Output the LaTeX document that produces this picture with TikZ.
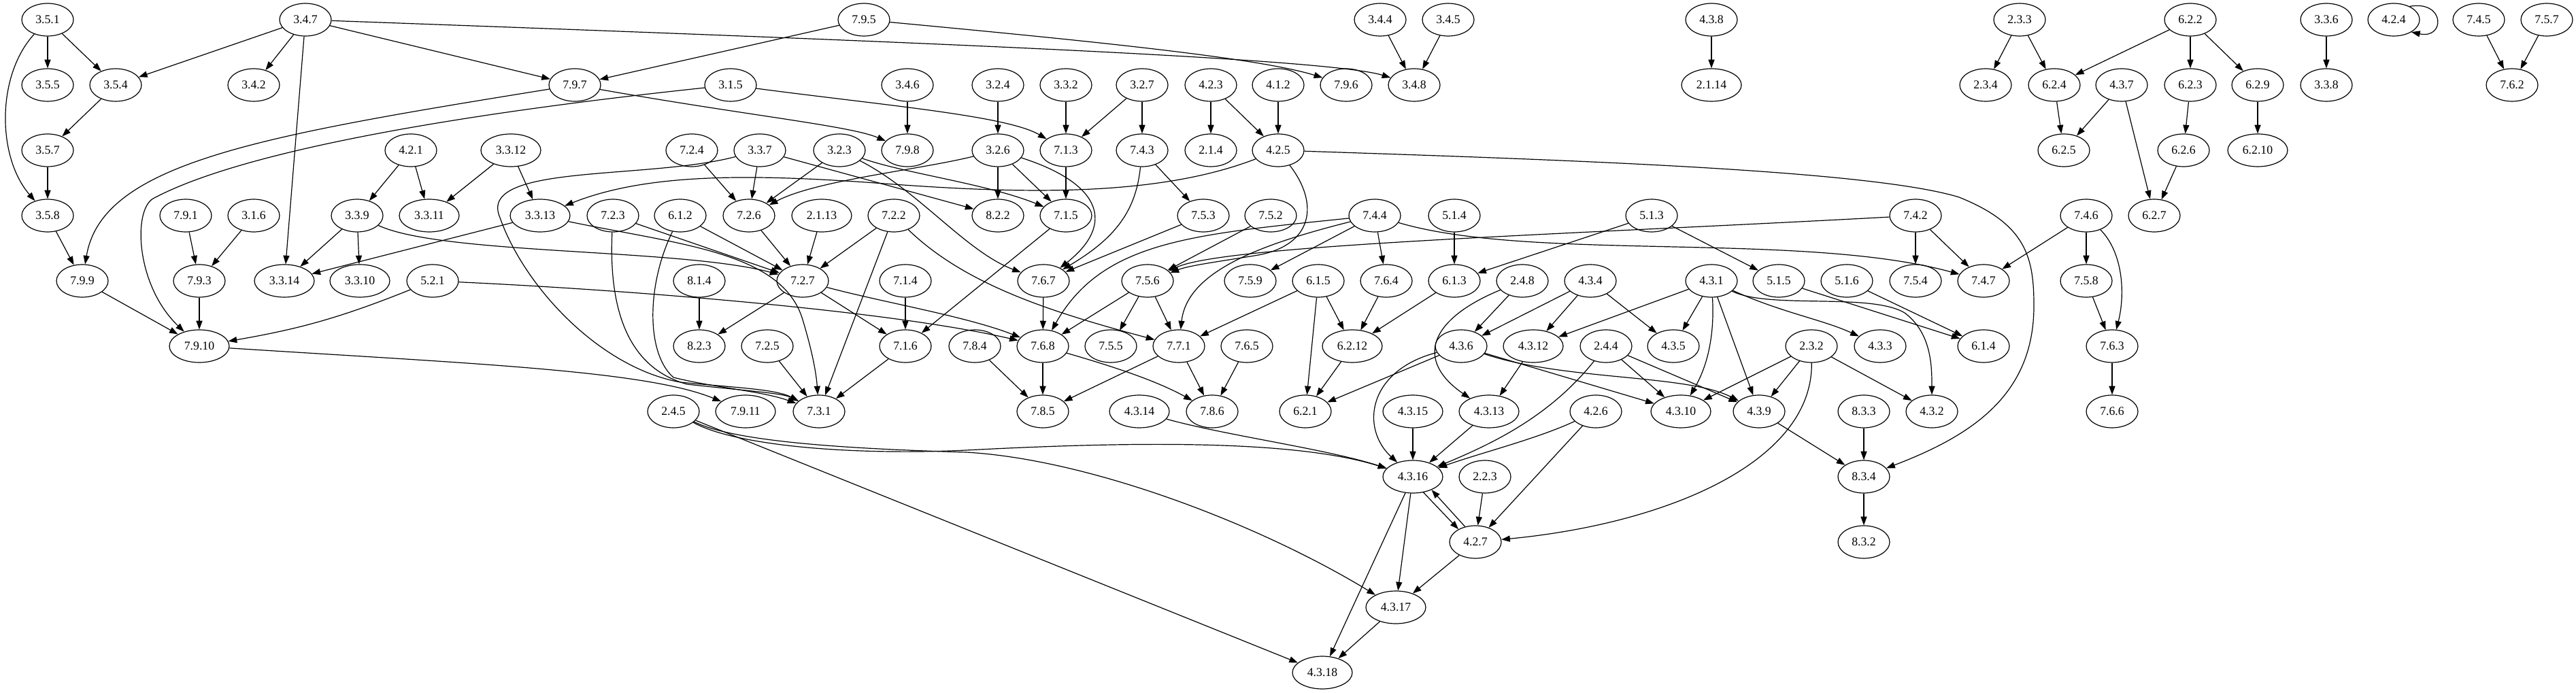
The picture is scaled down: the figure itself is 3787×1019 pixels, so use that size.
\documentclass[tikz,border=0pt]{standalone}
\usepackage{fontspec}
\setmainfont{Liberation Serif}
\usetikzlibrary{shapes.geometric,arrows.meta}
\newcommand\nodefont{\fontsize{13.3}{15}\selectfont}
\begin{document}
\begin{tikzpicture}[x=0.75pt,y=-0.75pt,
 nd/.style={draw,ellipse,minimum width=57pt,minimum height=36pt,inner sep=0pt,line width=0.9pt,font=\nodefont},
 wd/.style={nd,minimum width=66pt},
 e/.style={line width=0.9pt,-{Triangle[length=9.5pt,width=6.8pt]}}]
\useasboundingbox (0,0) rectangle (3787,1019);
% row 0
\node[nd] (a351) at (70,29) {3.5.1};
\node[nd] (a347) at (449,29) {3.4.7};
\node[nd] (a795) at (1270,29) {7.9.5};
\node[nd] (a344) at (2029,29) {3.4.4};
\node[nd] (a345) at (2129,29) {3.4.5};
\node[nd] (a438) at (2516,29) {4.3.8};
\node[nd] (a233) at (2969,29) {2.3.3};
\node[nd] (a622) at (3220,29) {6.2.2};
\node[nd] (a336) at (3420,29) {3.3.6};
\node[nd] (a424) at (3519,29) {4.2.4};
\node[nd] (a745) at (3644,29) {7.4.5};
\node[nd] (a757) at (3744,29) {7.5.7};
% row 1
\node[nd] (a355) at (70,125) {3.5.5};
\node[nd] (a354) at (170,125) {3.5.4};
\node[nd] (a342) at (373,125) {3.4.2};
\node[nd] (a797) at (845,125) {7.9.7};
\node[nd] (a315) at (1074,125) {3.1.5};
\node[nd] (a346) at (1334,125) {3.4.6};
\node[nd] (a324) at (1467,125) {3.2.4};
\node[nd] (a332) at (1567,125) {3.3.2};
\node[nd] (a327) at (1679,125) {3.2.7};
\node[nd] (a423) at (1780,125) {4.2.3};
\node[nd] (a412) at (1879,125) {4.1.2};
\node[nd] (a796) at (1979,125) {7.9.6};
\node[nd] (a348) at (2079,125) {3.4.8};
\node[wd] (a2114) at (2516,125) {2.1.14};
\node[nd] (a234) at (2919,125) {2.3.4};
\node[nd] (a624) at (3020,125) {6.2.4};
\node[nd] (a437) at (3119,125) {4.3.7};
\node[nd] (a623) at (3220,125) {6.2.3};
\node[nd] (a629) at (3319,125) {6.2.9};
\node[nd] (a338) at (3420,125) {3.3.8};
\node[nd] (a762) at (3693,125) {7.6.2};
% row 2
\node[nd] (a357) at (70,221) {3.5.7};
\node[nd] (a421) at (604,221) {4.2.1};
\node[wd] (a3312) at (751,221) {3.3.12};
\node[nd] (a724) at (1017,221) {7.2.4};
\node[nd] (a337) at (1117,221) {3.3.7};
\node[nd] (a323) at (1234,221) {3.2.3};
\node[nd] (a798) at (1334,221) {7.9.8};
\node[nd] (a326) at (1467,221) {3.2.6};
\node[nd] (a713) at (1567,221) {7.1.3};
\node[nd] (a743) at (1679,221) {7.4.3};
\node[nd] (a214) at (1780,221) {2.1.4};
\node[nd] (a425) at (1879,221) {4.2.5};
\node[nd] (a625) at (3034,221) {6.2.5};
\node[nd] (a626) at (3210,221) {6.2.6};
\node[wd] (a6210) at (3319,221) {6.2.10};
% row 3
\node[nd] (a358) at (70,317) {3.5.8};
\node[nd] (a791) at (273,317) {7.9.1};
\node[nd] (a316) at (373,317) {3.1.6};
\node[nd] (a339) at (525,317) {3.3.9};
\node[wd] (a3311) at (631,317) {3.3.11};
\node[wd] (a3313) at (794,317) {3.3.13};
\node[nd] (a723) at (901,317) {7.2.3};
\node[nd] (a612) at (1000,317) {6.1.2};
\node[nd] (a726) at (1101,317) {7.2.6};
\node[wd] (a2113) at (1208,317) {2.1.13};
\node[nd] (a722) at (1314,317) {7.2.2};
\node[nd] (a822) at (1467,317) {8.2.2};
\node[nd] (a715) at (1567,317) {7.1.5};
\node[nd] (a753) at (1769,317) {7.5.3};
\node[nd] (a752) at (1868,317) {7.5.2};
\node[nd] (a744) at (2021,317) {7.4.4};
\node[nd] (a514) at (2138,317) {5.1.4};
\node[nd] (a513) at (2428,317) {5.1.3};
\node[nd] (a742) at (2816,317) {7.4.2};
\node[nd] (a746) at (3067,317) {7.4.6};
\node[nd] (a627) at (3167,317) {6.2.7};
% row 4
\node[nd] (a799) at (121,413) {7.9.9};
\node[nd] (a793) at (293,413) {7.9.3};
\node[wd] (a3314) at (418,413) {3.3.14};
\node[wd] (a3310) at (529,413) {3.3.10};
\node[nd] (a521) at (636,413) {5.2.1};
\node[nd] (a814) at (1028,413) {8.1.4};
\node[nd] (a727) at (1180,413) {7.2.7};
\node[nd] (a714) at (1331,413) {7.1.4};
\node[nd] (a767) at (1534,413) {7.6.7};
\node[nd] (a756) at (1687,413) {7.5.6};
\node[nd] (a759) at (1838,413) {7.5.9};
\node[nd] (a615) at (1938,413) {6.1.5};
\node[nd] (a764) at (2038,413) {7.6.4};
\node[nd] (a613) at (2138,413) {6.1.3};
\node[nd] (a248) at (2238,413) {2.4.8};
\node[nd] (a434) at (2338,413) {4.3.4};
\node[nd] (a431) at (2516,413) {4.3.1};
\node[nd] (a515) at (2615,413) {5.1.5};
\node[nd] (a516) at (2715,413) {5.1.6};
\node[nd] (a754) at (2816,413) {7.5.4};
\node[nd] (a747) at (2916,413) {7.4.7};
\node[nd] (a758) at (3067,413) {7.5.8};
% row 5
\node[wd] (a7910) at (293,509) {7.9.10};
\node[nd] (a823) at (1028,509) {8.2.3};
\node[nd] (a725) at (1128,509) {7.2.5};
\node[nd] (a716) at (1331,509) {7.1.6};
\node[nd] (a784) at (1433,509) {7.8.4};
\node[nd] (a768) at (1533,509) {7.6.8};
\node[nd] (a755) at (1633,509) {7.5.5};
\node[nd] (a771) at (1733,509) {7.7.1};
\node[nd] (a765) at (1833,509) {7.6.5};
\node[wd] (a6212) at (1988,509) {6.2.12};
\node[nd] (a436) at (2148,509) {4.3.6};
\node[wd] (a4312) at (2254,509) {4.3.12};
\node[nd] (a244) at (2361,509) {2.4.4};
\node[nd] (a435) at (2460,509) {4.3.5};
\node[nd] (a232) at (2663,509) {2.3.2};
\node[nd] (a433) at (2764,509) {4.3.3};
\node[nd] (a614) at (2916,509) {6.1.4};
\node[nd] (a763) at (3105,509) {7.6.3};
% row 6
\node[nd] (a245) at (990,605) {2.4.5};
\node[wd] (a7911) at (1096,605) {7.9.11};
\node[nd] (a731) at (1204,605) {7.3.1};
\node[nd] (a785) at (1533,605) {7.8.5};
\node[wd] (a4314) at (1675,605) {4.3.14};
\node[nd] (a786) at (1782,605) {7.8.6};
\node[nd] (a621) at (1919,605) {6.2.1};
\node[wd] (a4315) at (2077,605) {4.3.15};
\node[wd] (a4313) at (2189,605) {4.3.13};
\node[nd] (a426) at (2346,605) {4.2.6};
\node[wd] (a4310) at (2471,605) {4.3.10};
\node[nd] (a439) at (2586,605) {4.3.9};
\node[nd] (a833) at (2740,605) {8.3.3};
\node[nd] (a432) at (2840,605) {4.3.2};
\node[nd] (a766) at (3105,605) {7.6.6};
% rows 7-10
\node[wd] (a4316) at (2077,701) {4.3.16};
\node[nd] (a223) at (2183,701) {2.2.3};
\node[nd] (a834) at (2740,701) {8.3.4};
\node[nd] (a427) at (2169,797) {4.2.7};
\node[nd] (a832) at (2740,797) {8.3.2};
\node[wd] (a4317) at (2052,893) {4.3.17};
\node[wd] (a4318) at (1944,989) {4.3.18};

% straight edges
\foreach \s/\t in {a351/a355,a351/a354,a347/a354,a347/a342,a347/a3314,a347/a797,a354/a357,a357/a358,a358/a799,
 a421/a339,a421/a3311,a3312/a3311,a791/a793,a316/a793,a339/a3314,a339/a3310,a3313/a3314,a799/a7910,a793/a7910,
 a795/a797,a346/a798,a3312/a3313,a724/a726,a337/a726,a337/a822,a323/a726,a723/a727,a612/a727,a726/a727,a2113/a727,
 a722/a727,a722/a731,a727/a823,a727/a716,a814/a823,a714/a716,a725/a731,a716/a731,a245/a4318,a324/a326,a332/a713,
 a327/a713,a327/a743,a423/a214,a423/a425,a412/a425,a326/a822,a326/a715,a713/a715,a743/a753,a715/a716,a753/a767,
 a752/a756,a744/a759,a767/a768,a756/a768,a756/a755,a756/a771,a615/a771,a615/a6212,a615/a621,a784/a785,a768/a785,
 a771/a785,a771/a786,a765/a786,a6212/a621,a436/a621,a344/a348,a345/a348,a438/a2114,a744/a764,a514/a613,a513/a613,
 a513/a515,a764/a6212,a613/a6212,a248/a436,a434/a436,a434/a4312,a434/a435,a431/a4312,a431/a435,a431/a439,a515/a614,
 a516/a614,a4312/a4313,a244/a4310,a244/a439,a4315/a4316,a4313/a4316,a426/a427,a232/a4310,a232/a439,a232/a432,
 a223/a427,a4316/a4317,a4316/a4318,a427/a4317,a4317/a4318,a439/a834,a833/a834,a834/a832,a233/a234,a233/a624,
 a622/a624,a622/a623,a622/a629,a624/a625,a437/a625,a437/a627,a623/a626,a626/a627,a629/a6210,a336/a338,a745/a762,
 a757/a762,a742/a754,a742/a747,a746/a747,a746/a758,a758/a763,a763/a766,a436/a4310}
 {\draw[e] (\s) -- (\t);}

% curved edges
\draw[e] (a351) .. controls (-5,110) and (-5,230) .. (a358);
\draw[e] (a347) .. controls (1300,60) and (1950,85) .. (a348);
\draw[e] (a797) .. controls (380,200) and (150,240) .. (a799);
\draw[e] (a315) .. controls (650,170) and (350,225) .. (225,292) .. controls (195,310) and (200,420) .. (a7910);
\draw[e] (a339) .. controls (650,375) and (1000,365) .. (a727);
\draw[e] (a521) to[bend left=6] (a7910);
\draw[e] (a521) .. controls (900,425) and (1300,455) .. (a768);
\draw[e] (a7910) .. controls (700,535) and (950,545) .. (a7911);
\draw[e] (a795) .. controls (1600,60) and (1850,85) .. (a796);
\draw[e] (a797) .. controls (1100,170) and (1250,185) .. (a798);
\draw[e] (a315) .. controls (1300,155) and (1480,170) .. (a713);
\draw[e] (a337) .. controls (950,265) and (700,240) .. (735,320) .. controls (770,420) and (880,540) .. (1000,562) .. controls (1080,570) and (1140,572) .. (a731);
\draw[e] (a323) .. controls (1330,255) and (1450,270) .. (a715);
\draw[e] (a323) .. controls (1350,280) and (1420,370) .. (a767);
\draw[e] (a326) .. controls (1350,250) and (1200,265) .. (a726);
\draw[e] (a723) .. controls (895,450) and (920,540) .. (1010,565) .. controls (1100,575) and (1150,578) .. (a731);
\draw[e] (a612) .. controls (950,420) and (950,520) .. (990,555) .. controls (1050,570) and (1120,575) .. (a731);
\draw[e] (a3313) .. controls (1000,360) and (1150,370) .. (1180,470) .. controls (1195,520) and (1200,550) .. (a731);
\draw[e] (a722) .. controls (1420,420) and (1550,460) .. (a771);
\draw[e] (a727) .. controls (1300,445) and (1420,465) .. (a768);
\draw[e] (a245) .. controls (1080,655) and (1250,670) .. (1420,662) .. controls (1650,650) and (1900,645) .. (a4316);
\draw[e] (a245) .. controls (1080,650) and (1250,660) .. (1420,665) .. controls (1600,675) and (1850,770) .. (a4317);
\draw[e] (a425) .. controls (2300,235) and (2750,250) .. (2880,290) .. controls (2980,330) and (2990,380) .. (2990,450) .. controls (2990,580) and (2900,640) .. (a834);
\draw[e] (a425) .. controls (1700,290) and (1500,285) .. (1300,270) .. controls (1100,255) and (950,255) .. (a3313);
\draw[e] (a425) .. controls (1940,300) and (1930,360) .. (1850,375) .. controls (1790,385) and (1750,390) .. (a756);
\draw[e] (a326) .. controls (1620,270) and (1640,330) .. (a767);
\draw[e] (a743) .. controls (1670,310) and (1640,350) .. (a767);
\draw[e] (a744) .. controls (1750,345) and (1620,355) .. (a768);
\draw[e] (a744) .. controls (1850,360) and (1745,400) .. (a771);
\draw[e] (a742) .. controls (2300,345) and (1800,360) .. (a756);
\draw[e] (a768) .. controls (1640,540) and (1700,560) .. (a786);
\draw[e] (a4314) .. controls (1800,640) and (1950,660) .. (a4316);
\draw[e] (a744) .. controls (2250,385) and (2650,340) .. (a747);
\draw[e] (a248) .. controls (2100,470) and (2080,530) .. (a4313);
\draw[e] (a431) .. controls (2520,480) and (2515,530) .. (a4310);
\draw[e] (a431) .. controls (2600,455) and (2750,430) .. (2800,460) .. controls (2840,490) and (2840,540) .. (a432);
\draw[e] (a431) .. controls (2620,460) and (2680,470) .. (a433);
\draw[e] (a436) .. controls (2010,545) and (2000,630) .. (a4316);
\draw[e] (a436) .. controls (2300,560) and (2480,550) .. (a439);
\draw[e] (a244) .. controls (2280,610) and (2200,650) .. (a4316);
\draw[e] (a426) .. controls (2260,645) and (2180,665) .. (a4316);
\draw[e] (a232) .. controls (2665,680) and (2450,770) .. (a427);
\draw[e] (a4316.-56) -- (a427.143);
\draw[e] (a427.124) -- (a4316.-35);
\draw[e] (a424.40) .. controls (3595,0) and (3595,58) .. (a424.-35);
\draw[e] (a746) .. controls (3120,370) and (3125,430) .. (a763);
\end{tikzpicture}
\end{document}
